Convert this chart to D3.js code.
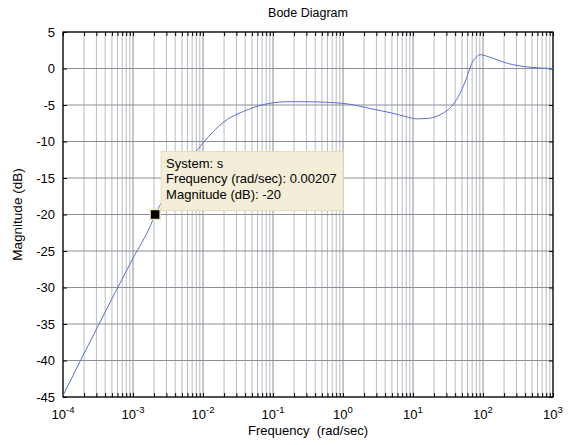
<!DOCTYPE html>
<html>
<head>
<meta charset="utf-8">
<script src="https://cdn.jsdelivr.net/npm/d3@7"></script>
<style>
body { margin: 0; background: #fff; }
text { font-family: "Liberation Sans", Arial, sans-serif; fill: #000; }
</style>
</head>
<body>
<div id="chart"></div>
<script>
// magnitude response (rad/sec, dB)
const freq = [0.0001, 0.000178, 0.000316, 0.000562, 0.001, 0.00178, 0.00207, 0.00316,
  0.00501, 0.00708, 0.01, 0.0141, 0.02, 0.0316, 0.0447, 0.0631, 0.1, 0.158, 0.316,
  0.5, 0.794, 1.26, 2, 3.16, 5.01, 7.94, 11.2, 15.8, 22.4, 28.2, 35.5, 44.7, 56.2,
  70.8, 83.2, 91.2, 112, 158, 224, 316, 501, 708, 1000];
const magDb = [-44.8, -40.0, -35.3, -30.6, -26.0, -21.5, -20.0, -17.0,
  -14.0, -12.0, -10.2, -8.6, -7.3, -6.2, -5.6, -5.1, -4.7, -4.55, -4.55,
  -4.6, -4.7, -4.9, -5.3, -5.7, -6.1, -6.6, -6.9, -6.85, -6.5, -6.0, -5.2, -3.8, -1.7,
  0.9, 1.7, 1.9, 1.7, 1.2, 0.7, 0.4, 0.15, 0.05, 0.0];

const decadeExps = [-4, -3, -2, -1, 0, 1, 2, 3];
const yTicks = [5, 0, -5, -10, -15, -20, -25, -30, -35, -40, -45];

const markerPoint = { freq: 0.00207, mag: -20 };
const tipLines = ["System: s", "Frequency (rad/sec): 0.00207", "Magnitude (dB): -20"];

const W = 570, H = 445;
const margin = { top: 32, right: 17, bottom: 48, left: 63 };
const width = W - margin.left - margin.right;
const height = H - margin.top - margin.bottom;

const x = d3.scaleLog().domain([1e-4, 1e3]).range([0, width]);
const y = d3.scaleLinear().domain([-45, 5]).range([height, 0]);

// every 1..9 x 10^k grid position
const majorTicks = decadeExps.map(e => Math.pow(10, e));
const minorTicks = [];
decadeExps.slice(0, -1).forEach(e => {
  for (let m = 2; m <= 9; m++) minorTicks.push(m * Math.pow(10, e));
});

const svg = d3.select("#chart").append("svg")
  .attr("width", W)
  .attr("height", H);

const g = svg.append("g")
  .attr("transform", `translate(${margin.left},${margin.top})`);

// grid
g.selectAll(".vminor").data(minorTicks).enter().append("line")
  .attr("x1", d => x(d)).attr("x2", d => x(d))
  .attr("y1", 0).attr("y2", height)
  .attr("stroke", "#b8bcc3").attr("stroke-width", 1);

g.selectAll(".vmajor").data(majorTicks).enter().append("line")
  .attr("x1", d => x(d)).attr("x2", d => x(d))
  .attr("y1", 0).attr("y2", height)
  .attr("stroke", "#8a8e96").attr("stroke-width", 1);

g.selectAll(".hgrid").data(yTicks).enter().append("line")
  .attr("x1", 0).attr("x2", width)
  .attr("y1", d => y(d)).attr("y2", d => y(d))
  .attr("stroke", "#8a8e96").attr("stroke-width", 1);

// inward tick marks on all four sides
const allX = majorTicks.concat(minorTicks);
g.append("g").attr("transform", `translate(0,${height})`)
  .call(d3.axisBottom(x).tickValues(allX).tickSize(-4).tickFormat(""));
g.append("g")
  .call(d3.axisTop(x).tickValues(allX).tickSize(-4).tickFormat(""));
g.append("g")
  .call(d3.axisLeft(y).tickValues(yTicks).tickSize(-4).tickFormat(""));
g.append("g").attr("transform", `translate(${width},0)`)
  .call(d3.axisRight(y).tickValues(yTicks).tickSize(-4).tickFormat(""));
g.selectAll(".domain").remove();
g.selectAll(".tick line").attr("stroke", "#000");

// box
g.append("rect")
  .attr("width", width).attr("height", height)
  .attr("fill", "none").attr("stroke", "#000").attr("stroke-width", 1.2);

// y labels
g.selectAll(".ylab").data(yTicks).enter().append("text")
  .attr("x", -8).attr("y", d => y(d) + 4.5)
  .attr("text-anchor", "end")
  .style("font-size", "13px")
  .text(d => d);

// x labels 10^n
const xl = g.selectAll(".xlab").data(decadeExps).enter().append("text")
  .attr("x", d => x(Math.pow(10, d)))
  .attr("y", height + 22)
  .attr("text-anchor", "middle")
  .style("font-size", "13px");
xl.append("tspan").text("10");
xl.append("tspan").attr("dy", -6).style("font-size", "9.5px").text(d => d);

// curve
const pts = freq.map((f, i) => [f, magDb[i]]);
g.append("path")
  .datum(pts)
  .attr("fill", "none")
  .attr("stroke", "#5b70d2")
  .attr("stroke-width", 1)
  .attr("d", d3.line().x(d => x(d[0])).y(d => y(d[1])).curve(d3.curveMonotoneX));

// data tip
const mx = x(markerPoint.freq), my = y(markerPoint.mag);
g.append("rect")
  .attr("x", mx - 5).attr("y", my - 5)
  .attr("width", 10).attr("height", 10)
  .attr("fill", "#000").attr("stroke", "#efe3b8").attr("stroke-width", 1.5);

const tip = g.append("g").attr("transform", `translate(${mx + 6},${my - 63})`);
tip.append("rect")
  .attr("width", 182).attr("height", 59)
  .attr("fill", "#f4eed8").attr("stroke", "#e6dcb8").attr("stroke-width", 1);
tip.selectAll("text").data(tipLines).enter().append("text")
  .attr("x", 5).attr("y", (d, i) => 16 + i * 15.5)
  .style("font-size", "13px")
  .text(d => d);

// titles
svg.append("text")
  .attr("x", margin.left + width / 2).attr("y", 17)
  .attr("text-anchor", "middle")
  .style("font-size", "12.5px")
  .text("Bode Diagram");

svg.append("text")
  .attr("x", margin.left + width / 2).attr("y", 435)
  .attr("text-anchor", "middle")
  .style("font-size", "13px")
  .attr("xml:space", "preserve")
  .text("Frequency  (rad/sec)");

svg.append("text")
  .attr("transform", `translate(22,${margin.top + height / 2}) rotate(-90)`)
  .attr("text-anchor", "middle")
  .style("font-size", "13.5px")
  .text("Magnitude (dB)");
</script>
</body>
</html>
